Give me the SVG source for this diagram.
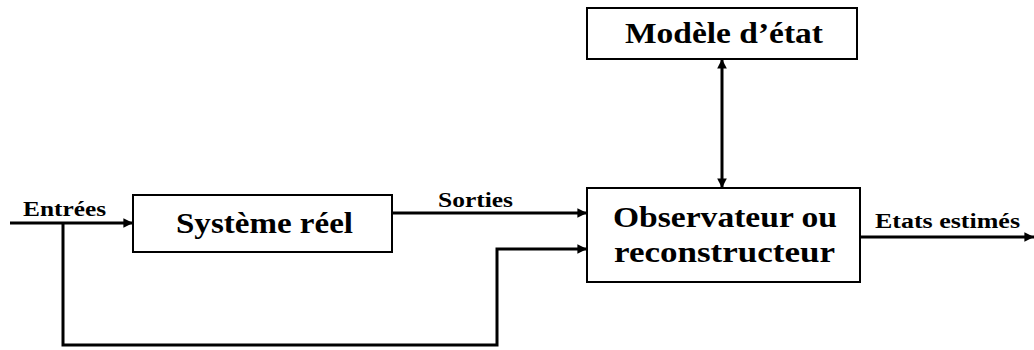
<svg xmlns="http://www.w3.org/2000/svg" width="1034" height="350" viewBox="0 0 1034 350">
<style>
.box{fill:#fff;stroke:#000;stroke-width:2}
.t{font-family:"Liberation Serif","Times New Roman",serif;font-weight:bold;fill:#000}
.big{font-size:29px}
.sm{font-size:20px}
.ln{fill:none;stroke:#000;stroke-width:3}
</style>
<defs>
<marker id="ah" viewBox="0 0 10 10" refX="10" refY="5" markerWidth="4" markerHeight="3.2" orient="auto-start-reverse" markerUnits="strokeWidth">
<path d="M0,0 L10,5 L0,10 z" fill="#000"/>
</marker>
</defs>
<g id="connectors">
<path class="ln" d="M10,223 H133" marker-end="url(#ah)"/>
<path class="ln" d="M63,223 V345 H497 V249 H587" marker-end="url(#ah)"/>
<path class="ln" d="M392,213 H587" marker-end="url(#ah)"/>
<path class="ln" d="M722,59 V188" marker-start="url(#ah)" marker-end="url(#ah)"/>
<path class="ln" d="M860,237 H1034" marker-end="url(#ah)"/>
<text class="t sm" x="23" y="216" textLength="83" lengthAdjust="spacingAndGlyphs">Entrées</text>
<text class="t sm" x="438" y="207" textLength="75" lengthAdjust="spacingAndGlyphs">Sorties</text>
<text class="t sm" x="875" y="228" textLength="145" lengthAdjust="spacingAndGlyphs">Etats estimés</text>
</g>
<g id="systeme">
<rect class="box" x="133" y="195" width="259" height="57"/>
<text class="t big" x="176" y="233" textLength="177" lengthAdjust="spacingAndGlyphs">Système réel</text>
</g>
<g id="modele">
<rect class="box" x="587" y="8" width="270" height="51"/>
<text class="t big" x="625" y="43" textLength="198" lengthAdjust="spacingAndGlyphs">Modèle d’état</text>
</g>
<g id="observateur">
<rect class="box" x="587" y="188" width="273" height="94"/>
<text class="t big" x="613" y="227" textLength="224" lengthAdjust="spacingAndGlyphs">Observateur ou</text>
<text class="t big" x="614" y="262" textLength="221" lengthAdjust="spacingAndGlyphs">reconstructeur</text>
</g>
</svg>
